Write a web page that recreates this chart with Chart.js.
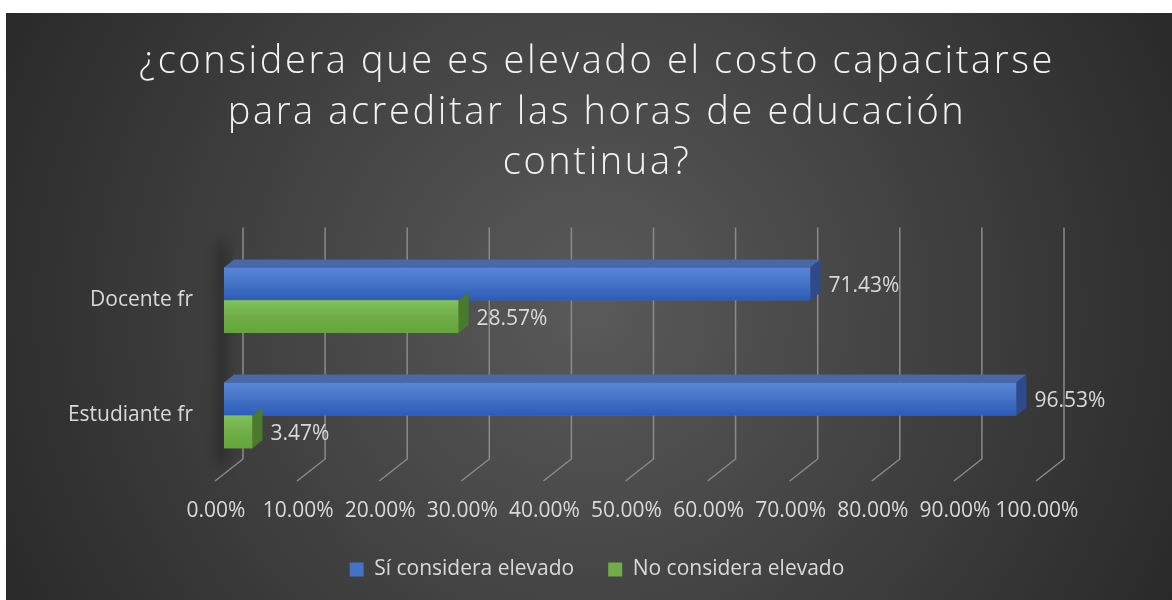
<!DOCTYPE html>
<html>
<head>
<meta charset="utf-8">
<script src="https://cdn.jsdelivr.net/npm/chart.js@4.4.0/dist/chart.umd.min.js"></script>
<style>
  html, body { margin: 0; padding: 0; background: #ffffff; }
  #marco { position: absolute; left: 6px; top: 13px; width: 1166px; height: 587px; }
</style>
</head>
<body>
<div id="marco"><canvas id="grafico"></canvas></div>
<script>
// datos
const categorias = ["Docente fr", "Estudiante fr"];
const siConsidera = [71.43, 96.53];
const noConsidera = [28.57, 3.47];
const nombresSeries = ["Sí considera elevado", "No considera elevado"];
const titulo = ["¿considera que es elevado el costo capacitarse", "para acreditar las horas de educación", "continua?"];

const fuente = "'Open Sans', sans-serif";
const grisTexto = "#d9d9d9";

// colores por serie: frente, frente claro, tapa, lado
const estilos = [
    { base: "#4472c4", claro: "#5a86da", oscuro: "#2d5bbb", tapa: "#4a67a6", lado: "#2c4a8c" },
    { base: "#70ad47", claro: "#80c25c", oscuro: "#63a63a", tapa: "#5f9a3c", lado: "#4a7a2e" }
];

// fondo degradado + espaciado de letras del titulo
const fondo = {
    id: "fondo",
    beforeDraw(chart) {
        const { ctx, width, height } = chart;
        const g = ctx.createRadialGradient(width * 0.5, height * 0.5, 0, width * 0.5, height * 0.5, width * 0.6);
        g.addColorStop(0, "#5a5a5a");
        g.addColorStop(1, "#262626");
        ctx.save();
        ctx.fillStyle = g;
        ctx.fillRect(0, 0, width, height);
        ctx.restore();

        const tb = chart.titleBlock;
        if (tb && !tb._espaciado) {
            const dibujar = tb.draw;
            tb.draw = function () {
                const c = this.ctx;
                c.save();
                c.letterSpacing = "2.6px";
                dibujar.apply(this, arguments);
                c.restore();
            };
            tb._espaciado = true;
        }
    }
};

// pared, sombra y lineas de division en 3D
const rejilla3d = {
    id: "rejilla3d",
    beforeDatasetsDraw(chart) {
        const { ctx, chartArea, scales } = chart;
        const x = scales.x;
        // sombra de la pared (solo se ve la sombra)
        ctx.save();
        ctx.shadowColor = "rgba(0,0,0,0.8)";
        ctx.shadowBlur = 14;
        ctx.shadowOffsetX = 2000;
        ctx.fillStyle = "#000";
        ctx.fillRect(chartArea.left - 2000 - 4, chartArea.top, 4, chartArea.bottom - chartArea.top - 10);
        ctx.restore();

        ctx.save();
        ctx.strokeStyle = "#8a8a8a";
        ctx.lineWidth = 1.5;
        for (let v = 0; v <= 100; v += 10) {
            const xb = x.getPixelForValue(v) + 19;
            ctx.beginPath();
            ctx.moveTo(xb, chartArea.top - 15);
            ctx.lineTo(xb, chartArea.bottom - 14);
            ctx.lineTo(xb - 28, chartArea.bottom + 8);
            ctx.stroke();
        }
        ctx.restore();
    },
    afterDatasetsDraw(chart) {
        const { ctx } = chart;
        const dx = 10, dy = -8;
        ctx.save();
        chart.data.datasets.forEach((ds, i) => {
            const meta = chart.getDatasetMeta(i);
            const est = estilos[i];
            meta.data.forEach((bar, j) => {
                const top = bar.y - bar.height / 2;
                const bot = bar.y + bar.height / 2;
                const x0 = bar.base;
                const x1 = bar.x;
                // frente con degradado
                const g = ctx.createLinearGradient(0, top, 0, bot);
                g.addColorStop(0, est.claro);
                g.addColorStop(0.5, est.base);
                g.addColorStop(1, est.oscuro);
                ctx.fillStyle = g;
                ctx.fillRect(x0, top, x1 - x0, bot - top);
                // tapa superior (solo la serie de arriba se ve)
                if (i === 0) {
                    ctx.fillStyle = est.tapa;
                    ctx.beginPath();
                    ctx.moveTo(x0, top);
                    ctx.lineTo(x0 + dx, top + dy);
                    ctx.lineTo(x1 + dx, top + dy);
                    ctx.lineTo(x1, top);
                    ctx.closePath();
                    ctx.fill();
                }
                // lado derecho
                ctx.fillStyle = est.lado;
                ctx.beginPath();
                ctx.moveTo(x1, top);
                ctx.lineTo(x1 + dx, top + dy);
                ctx.lineTo(x1 + dx, bot + dy);
                ctx.lineTo(x1, bot);
                ctx.closePath();
                ctx.fill();
                // etiqueta de datos
                ctx.fillStyle = grisTexto;
                ctx.font = "21px " + fuente;
                ctx.textAlign = "left";
                ctx.textBaseline = "middle";
                ctx.fillText(ds.data[j].toFixed(2) + "%", x1 + 18, bar.y + 2);
            });
        });
        ctx.restore();
    }
};

const ctx = document.getElementById("grafico").getContext("2d");
new Chart(ctx, {
    type: "bar",
    data: {
        labels: categorias,
        datasets: [
            { label: nombresSeries[0], data: siConsidera, backgroundColor: estilos[0].base, borderWidth: 0 },
            { label: nombresSeries[1], data: noConsidera, backgroundColor: estilos[1].base, borderWidth: 0 }
        ]
    },
    options: {
        indexAxis: "y",
        responsive: true,
        maintainAspectRatio: false,
        animation: false,
        barPercentage: 1,
        categoryPercentage: 0.57,
        layout: { padding: { left: 16, right: 0, top: 0, bottom: 10 } },
        plugins: {
            title: {
                display: true,
                text: titulo,
                color: "#f2f2f2",
                font: { family: fuente, size: 38, weight: "300", lineHeight: 1.33 },
                padding: { top: 24, bottom: 54 }
            },
            legend: {
                position: "bottom",
                labels: {
                    color: grisTexto,
                    font: { family: fuente, size: 21 },
                    boxWidth: 14,
                    boxHeight: 14,
                    padding: 34
                }
            },
            tooltip: { enabled: false }
        },
        scales: {
            x: {
                min: 0,
                max: 100,
                grid: { display: false, drawTicks: false, tickLength: 0 },
                border: { display: false },
                ticks: {
                    stepSize: 10,
                    color: grisTexto,
                    font: { family: fuente, size: 21 },
                    padding: 25,
                    labelOffset: -8,
                    maxRotation: 0,
                    autoSkip: false,
                    callback: v => v.toFixed(2) + "%"
                },
                afterFit: s => { s.height = 52; }
            },
            y: {
                grid: { display: false, drawTicks: false, tickLength: 0 },
                border: { display: false },
                ticks: {
                    color: grisTexto,
                    font: { family: fuente, size: 21 },
                    padding: 31
                },
                afterFit: s => { s.width = 202; }
            },
            margenDerecho: {
                type: "linear",
                axis: "y",
                position: "right",
                grid: { display: false },
                border: { display: false },
                ticks: { display: false },
                afterFit: s => { s.width = 127; }
            }
        }
    },
    plugins: [fondo, rejilla3d]
});
</script>
</body>
</html>
